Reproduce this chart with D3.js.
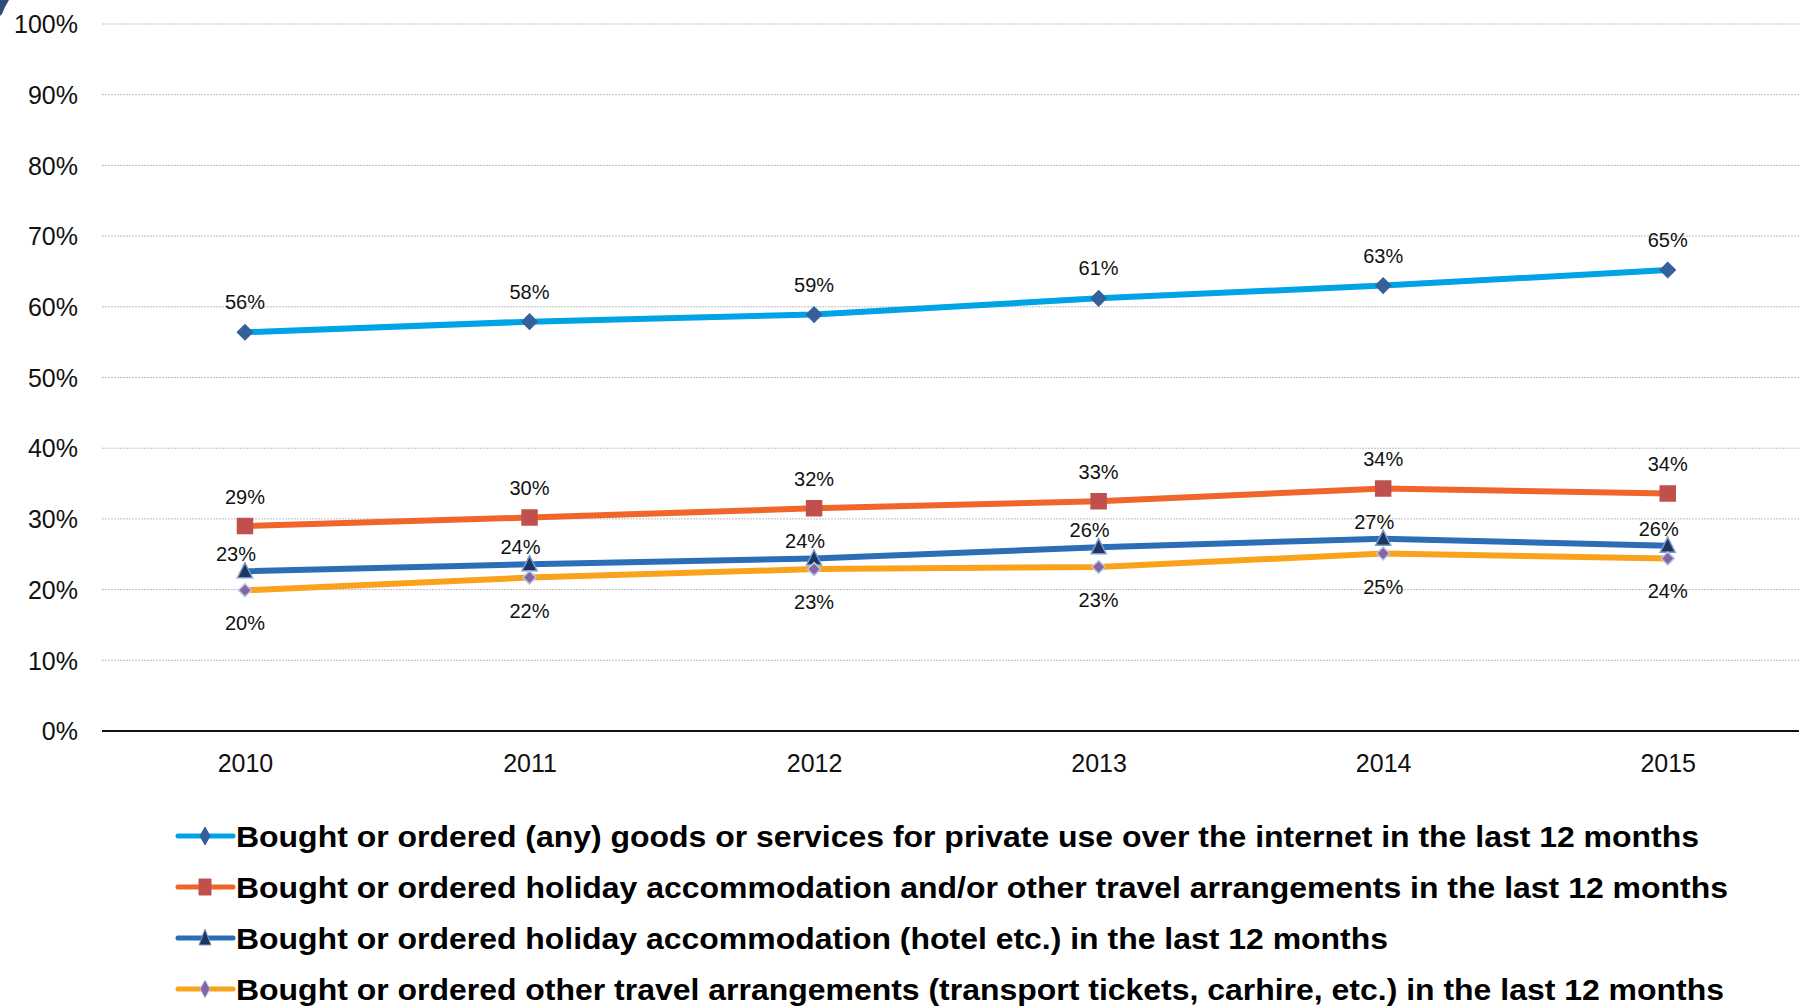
<!DOCTYPE html>
<html>
<head>
<meta charset="utf-8">
<script src="https://cdn.jsdelivr.net/npm/d3@7"></script>
<style>
  html, body { margin: 0; padding: 0; background: #fff; }
  svg { display: block; font-family: Arial, "Liberation Sans", sans-serif; }
</style>
</head>
<body>
<svg id="chart" width="1799" height="1006"></svg>
<script>
// Years on the x axis
const years = ["2010", "2011", "2012", "2013", "2014", "2015"];

// Share of individuals (%) per year
const anyGoods      = [56.4, 57.9, 58.9, 61.2, 63.0, 65.2];
const holidayAll    = [29.0, 30.2, 31.5, 32.5, 34.3, 33.6];
const holidayHotel  = [22.6, 23.6, 24.4, 26.0, 27.2, 26.2];
const otherTravel   = [19.9, 21.7, 22.9, 23.2, 25.1, 24.4];

// Series names shown in the legend
const seriesNames = [
  "Bought or ordered (any) goods or services for private use over the internet in the last 12 months",
  "Bought or ordered holiday accommodation and/or other travel arrangements in the last 12 months",
  "Bought or ordered holiday accommodation (hotel etc.) in the last 12 months",
  "Bought or ordered other travel arrangements (transport tickets, carhire, etc.) in the last 12 months"
];

// Y axis ticks
const yTicks = [0, 10, 20, 30, 40, 50, 60, 70, 80, 90, 100];

const series = [
  { name: seriesNames[0], values: anyGoods,     line: "#00A3E4", marker: "diamond", fill: "#36609A", stroke: "#36609A", size: 15, labelDx: 0,  labelDy: -30, legendLen: 1463 },
  { name: seriesNames[1], values: holidayAll,   line: "#F0662A", marker: "square",  fill: "#C0504D", stroke: "#C0504D", size: 15, labelDx: 0,  labelDy: -29, legendLen: 1492 },
  { name: seriesNames[2], values: holidayHotel, line: "#2B6DB6", marker: "triangle",fill: "#1C3661", stroke: "#7A9CCB", size: 15, labelDx: -9, labelDy: -17, legendLen: 1152 },
  { name: seriesNames[3], values: otherTravel,  line: "#F9A31C", marker: "diamond", fill: "#8466A6", stroke: "#B9C7E2", size: 13, labelDx: 0,  labelDy: 33,  legendLen: 1488 }
];

const svg = d3.select("#chart");

const x = d3.scalePoint().domain(years).range([102.7, 1810]).padding(0.5);
const y = d3.scaleLinear().domain([0, 100]).range([731, 24]);

// Dark corner ornament at the top-left edge of the slide
svg.append("path")
  .attr("d", "M0,0 L9,0 Q5,6 2,14 L0,16 Z")
  .attr("fill", "#2F4A7E");

// Dotted horizontal gridlines
svg.append("g")
  .selectAll("line")
  .data(yTicks.filter(t => t > 0))
  .join("line")
  .attr("x1", 102).attr("x2", 1799)
  .attr("y1", d => y(d)).attr("y2", d => y(d))
  .attr("stroke", "#BDBDBD")
  .attr("stroke-width", 1)
  .attr("stroke-dasharray", "2,1");

// Y axis labels
const yAxis = d3.axisLeft(y).tickValues(yTicks).tickFormat(d => d + "%").tickSize(0).tickPadding(0);
const gy = svg.append("g").attr("transform", "translate(78,0)").call(yAxis);
gy.select(".domain").remove();
gy.selectAll("text")
  .attr("font-size", 25)
  .attr("fill", "#111")
  .attr("font-family", "Arial, 'Liberation Sans', sans-serif")
  .attr("dy", "0.35em");

// Baseline (x axis)
const xAxis = d3.axisBottom(x).tickSize(0).tickPadding(0);
const gx = svg.append("g").attr("transform", `translate(0,${y(0)})`).call(xAxis);
gx.select(".domain").remove();
gx.selectAll("text")
  .attr("font-size", 25)
  .attr("fill", "#111")
  .attr("font-family", "Arial, 'Liberation Sans', sans-serif")
  .attr("y", 32)
  .attr("dy", "0.35em");
svg.append("line")
  .attr("x1", 102).attr("x2", 1799)
  .attr("y1", y(0)).attr("y2", y(0))
  .attr("stroke", "#111").attr("stroke-width", 2);

// Marker shapes
function markerPath(kind, s) {
  const h = s / 2;
  if (kind === "diamond") return `M0,${-h}L${h},0L0,${h}L${-h},0Z`;
  if (kind === "square") return `M${-h},${-h}H${h}V${h}H${-h}Z`;
  return `M0,${-h - 1}L${h},${h - 1}L${-h},${h - 1}Z`;
}

const line = d3.line().x((d, i) => x(years[i])).y(d => y(d));
const fmt = d3.format(".0%");

series.forEach(s => {
  const g = svg.append("g");
  g.append("path")
    .attr("d", line(s.values))
    .attr("fill", "none")
    .attr("stroke", s.line)
    .attr("stroke-width", 6)
    .attr("stroke-linejoin", "round");

  g.selectAll("path.mk")
    .data(s.values)
    .join("path")
    .attr("class", "mk")
    .attr("transform", (d, i) => `translate(${x(years[i])},${y(d)})`)
    .attr("d", markerPath(s.marker, s.size))
    .attr("fill", s.fill)
    .attr("stroke", s.stroke)
    .attr("stroke-width", 1.5);

  g.selectAll("text")
    .data(s.values)
    .join("text")
    .attr("x", (d, i) => x(years[i]) + s.labelDx)
    .attr("y", d => y(d) + s.labelDy)
    .attr("dy", "0.35em")
    .attr("text-anchor", "middle")
    .attr("font-size", 20)
    .attr("fill", "#111")
    .text(d => fmt(d / 100));
});

// Legend
const legendRows = [836, 887, 938, 989];
const legend = svg.append("g");
series.forEach((s, i) => {
  const ly = legendRows[i];
  legend.append("line")
    .attr("x1", 178).attr("x2", 233)
    .attr("y1", ly).attr("y2", ly)
    .attr("stroke", s.line).attr("stroke-width", 5)
    .attr("stroke-linecap", "round");
  legend.append("path")
    .attr("transform", `translate(205,${ly})`)
    .attr("d", s.marker === "diamond"
      ? `M0,-9L5,0L0,9L-5,0Z`
      : s.marker === "square" ? `M-6,-8H6V8H-6Z` : `M0,-9L6,7L-6,7Z`)
    .attr("fill", s.fill)
    .attr("stroke", s.stroke)
    .attr("stroke-width", 1);
  legend.append("text")
    .attr("x", 236)
    .attr("y", ly)
    .attr("dy", "0.36em")
    .attr("font-size", 30)
    .attr("font-weight", "bold")
    .attr("fill", "#000")
    .attr("textLength", s.legendLen)
    .attr("lengthAdjust", "spacingAndGlyphs")
    .text(s.name);
});
</script>
</body>
</html>
